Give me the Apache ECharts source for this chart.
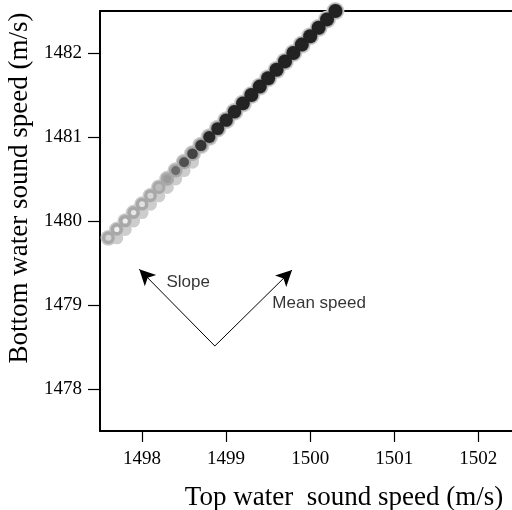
<!DOCTYPE html>
<html>
<head>
<meta charset="utf-8">
<script src="https://cdn.jsdelivr.net/npm/echarts@6/dist/echarts.min.js"></script>
<style>html,body{margin:0;padding:0;background:#fff}#c{width:512px;height:510px}</style>
</head>
<body>
<div id="c"></div>
<script>
// Band points (top water speed, bottom water speed)
const topSpeed = [1497.6,1497.7,1497.8,1497.9,1498.0,1498.1,1498.2,1498.3,1498.4,1498.5,1498.6,1498.7,1498.8,1498.9,1499.0,1499.1,1499.2,1499.3,1499.4,1499.5,1499.6,1499.7,1499.8,1499.9,1500.0,1500.1,1500.2,1500.3];
const bottomSpeed = [1479.8,1479.9,1480.0,1480.1,1480.2,1480.3,1480.4,1480.5,1480.6,1480.7,1480.8,1480.9,1481.0,1481.1,1481.2,1481.3,1481.4,1481.5,1481.6,1481.7,1481.8,1481.9,1482.0,1482.1,1482.2,1482.3,1482.4,1482.5];
// relative density (darkness) of each point
const density = [0.12,0.02,0.02,0.05,0.08,0.12,0.22,0.32,0.45,0.55,0.62,0.7,0.8,0.88,0.92,0.95,0.97,1,1,1,1,1,1,1,1,1,1,1];
// light fringe just below the band at the lower end
const fringeTop = [1497.7,1497.8,1497.9,1498.0,1498.1,1498.2,1498.3,1498.4,1498.5,1498.6];
const fringeBottom = [1479.8,1479.9,1480.0,1480.1,1480.2,1480.3,1480.4,1480.5,1480.6,1480.7];

const xTicks = [1498,1499,1500,1501,1502];
const yTicks = [1478,1479,1480,1481,1482];

// annotation arrows: common origin and two tips
const arrowOrigin = [1498.866, 1478.512];
const arrowTips = [[1497.967, 1479.425],[1499.784, 1479.417]];
const noteText = ['Slope','Mean speed'];
const noteX = [1498.29, 1499.55];
const noteY = [1479.27, 1479.02];

const serif = "'Liberation Serif','Times New Roman',serif";
const sans = "'Liberation Sans',Arial,Helvetica,sans-serif";

const pts = topSpeed.map((x,i)=>[x,bottomSpeed[i],density[i]]);
const fringePts = fringeTop.map((x,i)=>[x,fringeBottom[i]]);
const plain = v => String(Math.round(v));

const chart = echarts.init(document.getElementById('c'));
chart.setOption({
  animation:false,
  backgroundColor:'#fff',
  grid:{left:100,top:11,right:0,bottom:79,containLabel:false,outerBoundsMode:'none'},
  xAxis:[{
    type:'value',min:1497.5,max:1502.4,
    name:'Top water  sound speed (m/s)',nameLocation:'middle',nameGap:53,
    nameTextStyle:{fontFamily:serif,fontSize:27,color:'#000',padding:[0,0,0,76]},
    axisLine:{show:true,onZero:false,lineStyle:{color:'#000',width:2}},
    axisTick:{show:true,length:11,customValues:xTicks,lineStyle:{color:'#000',width:1.2}},
    axisLabel:{customValues:xTicks,formatter:plain,margin:19,fontFamily:serif,fontSize:19,color:'#000'},
    splitLine:{show:false}
  },{
    type:'value',position:'top',min:1497.5,max:1502.4,
    axisLine:{show:true,onZero:false,lineStyle:{color:'#000',width:2}},
    axisTick:{show:false},axisLabel:{show:false},splitLine:{show:false}
  }],
  yAxis:{
    type:'value',min:1477.5,max:1482.5,
    name:'Bottom water sound speed (m/s)',nameLocation:'middle',nameGap:57,
    nameTextStyle:{fontFamily:serif,fontSize:27,color:'#000',padding:[0,0,0,66]},
    axisLine:{show:true,onZero:false,lineStyle:{color:'#000',width:2}},
    axisTick:{show:true,length:12,customValues:yTicks,lineStyle:{color:'#000',width:1.2}},
    axisLabel:{customValues:yTicks,formatter:plain,margin:18,fontFamily:serif,fontSize:19,color:'#000'},
    splitLine:{show:false}
  },
  visualMap:[
    {show:false,seriesIndex:3,dimension:2,min:0,max:1,
      inRange:{color:['#f4f4f4','#b4b4b4','#5a5a5a','#2a2a2a','#222222'],symbolSize:[5,14]}},
    {show:false,seriesIndex:1,dimension:2,min:0,max:1,inRange:{symbolSize:[15.5,18]}},
    {show:false,seriesIndex:2,dimension:2,min:0,max:1,inRange:{symbolSize:[12.5,15.5]}}
  ],
  series:[
    {type:'scatter',data:fringePts,symbolSize:13,itemStyle:{color:'#cdcdcd',opacity:1},silent:true,z:1},
    {type:'scatter',data:pts,itemStyle:{color:'#cccccc',opacity:1},silent:true,z:2},
    {type:'scatter',data:pts,itemStyle:{color:'#a8a8a8',opacity:1},silent:true,z:3},
    {type:'scatter',data:pts,itemStyle:{opacity:1},silent:true,z:4},
    {type:'line',data:[],silent:true,z:5,
      markLine:{silent:true,symbol:['none','arrow'],symbolSize:[12,16],
        lineStyle:{color:'#000',width:1,type:'solid'},label:{show:false},
        data:arrowTips.map(t=>[{coord:arrowOrigin},{coord:t}])}},
    {type:'scatter',symbolSize:0,silent:true,z:6,
      data:noteText.map((t,i)=>({name:t,value:[noteX[i],noteY[i]]})),
      label:{show:true,position:'right',distance:0,formatter:'{b}',fontFamily:sans,fontSize:17,color:'#000'}}
  ]
});
</script>
</body>
</html>
